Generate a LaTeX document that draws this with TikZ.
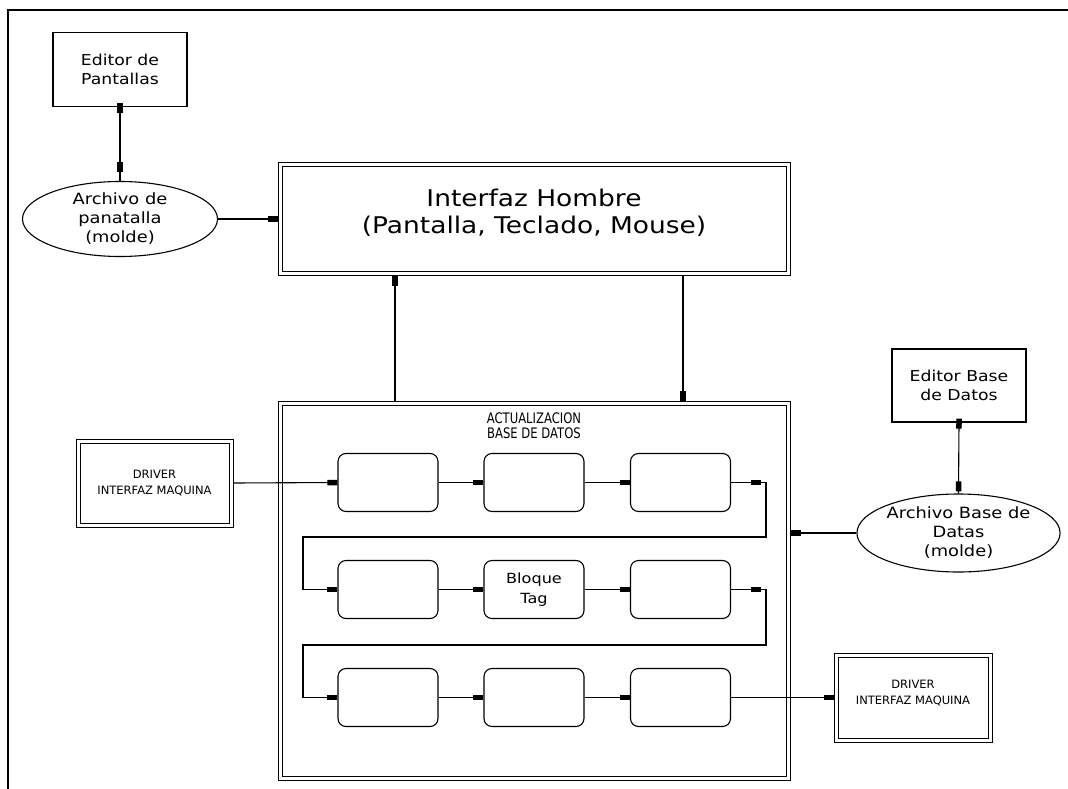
\documentclass[tikz,border=0pt]{standalone}
\usepackage{fontspec}
\setmainfont{DejaVu Sans}[FakeStretch=1.15]
\newfontfamily\capsfont{DejaVu Sans}
\newfontfamily\narrowfont{DejaVu Sans}[FakeStretch=0.8]
\usetikzlibrary{arrows.meta,shapes.geometric,decorations.markings}

\begin{document}
\begin{tikzpicture}[x=1pt,y=-1pt,
  line width=1.1pt,
  >={Rectangle[length=10pt,width=5.5pt]},
  plainbox/.style={draw, minimum width=134pt, minimum height=74pt, inner sep=0pt,
    align=center, font=\fontsize{15}{19}\selectfont},
  dblbox/.style={draw, double, double distance=3pt, line width=1pt, inner sep=0pt,
    outer sep=2.5pt, align=center},
  cell/.style={draw, rounded corners=8pt, minimum width=100pt, minimum height=58pt,
    inner sep=0pt, align=center, font=\fontsize{14}{20}\selectfont},
  oval/.style={draw, ellipse, inner sep=0pt, align=center,
    font=\fontsize{15.5}{19}\selectfont},
  lbl/.style={inner sep=0pt, align=center},
  drvtext/.style={font=\capsfont\fontsize{11.5}{16}\selectfont},
  midtip/.style={postaction={decorate}, decoration={markings,
    mark=at position #1 with {\arrow{>}}}},
  bothtips/.style 2 args={postaction={decorate}, decoration={markings,
    mark=at position #1 with {\arrow{<}},
    mark=at position #2 with {\arrow{>}}}},
]
\useasboundingbox (0,0) rectangle (1068,789);

% sheet frame (left and top edges)
\draw[line width=1.2pt] (8,789) -- (8,10) -- (1068,10);

% screen editor side
\node[plainbox] (edp) at (120,69.5) {Editor de\\Pantallas};
\node[oval, minimum width=195pt, minimum height=75pt] (arp) at (120,219)
  {Archivo de\\panatalla\\(molde)};

% human interface
\node[dblbox, minimum width=508pt, minimum height=109pt] (ifz) at (534,218.5) {};
\node[lbl, font=\fontsize{23}{27}\selectfont] (ifztext) at (534,213)
  {Interfaz Hombre\\(Pantalla, Teclado, Mouse)};

% database update block
\node[dblbox, minimum width=508pt, minimum height=375pt] (act) at (534,590.5) {};
\node[lbl, font=\narrowfont\fontsize{14.5}{15}\selectfont] (acttitle) at (534,425.5)
  {ACTUALIZACION\\BASE DE DATOS};

% machine drivers
\node[dblbox, minimum width=153pt, minimum height=84pt, drvtext] (drv1) at (154.5,483)
  {DRIVER\\INTERFAZ MAQUINA};
\node[dblbox, minimum width=154pt, minimum height=85pt] (drv2) at (913,697.5) {};
\node[lbl, drvtext] (drv2text) at (913,693.5) {DRIVER\\INTERFAZ MAQUINA};

% database editor side
\node[plainbox, minimum height=73pt] (edb) at (959,385.5) {Editor Base\\de Datos};
\node[oval, minimum width=203pt, minimum height=78pt] (arb) at (958.5,533)
  {Archivo Base de\\Datas\\(molde)};

% processing cells
\node[cell] (r1c1) at (388,482.5) {};
\node[cell] (r1c2) at (534,482.5) {};
\node[cell] (r1c3) at (680.5,482.5) {};
\node[cell] (r2c1) at (388,589.5) {};
\node[cell] (r2c2) at (534,589.5) {Bloque\\Tag};
\node[cell] (r2c3) at (680.5,589.5) {};
\node[cell] (r3c1) at (388,697.5) {};
\node[cell] (r3c2) at (534,697.5) {};
\node[cell] (r3c3) at (680.5,697.5) {};

% helper coordinates for the routing
\coordinate (upx) at (395,0);
\coordinate (dnx) at (683,0);
\coordinate (bendR) at (766,0);
\coordinate (bendL) at (303,0);
\coordinate (gap1) at (0,537);
\coordinate (gap2) at (0,645);

% connectors
\draw[bothtips={6pt}{-9pt}] (edp.south) -- (arp.north);
\draw[->] (arp.east) -- (ifz.west |- arp.east);
\draw[->] (act.north -| upx) -- (ifz.south -| upx);
\draw[->] (ifz.south -| dnx) -- (act.north -| dnx);
\draw[bothtips={6pt}{-2pt}] (edb.south) -- (arb.north);
\draw[->] (arb.west) -- (act.east |- arb.west);
\draw[->] (drv1.east) -- (r1c1.west);

\draw[->] (r1c1.east) -- (r1c2.west);
\draw[->] (r1c2.east) -- (r1c3.west);
\draw[->, midtip=30pt] (r1c3.east) -- (r1c3.east -| bendR) -- (bendR |- gap1)
  -- (bendL |- gap1) -- (bendL |- r2c1.west) -- (r2c1.west);
\draw[->] (r2c1.east) -- (r2c2.west);
\draw[->] (r2c2.east) -- (r2c3.west);
\draw[->, midtip=30pt] (r2c3.east) -- (r2c3.east -| bendR) -- (bendR |- gap2)
  -- (bendL |- gap2) -- (bendL |- r3c1.west) -- (r3c1.west);
\draw[->] (r3c1.east) -- (r3c2.west);
\draw[->] (r3c2.east) -- (r3c3.west);
\draw[->] (r3c3.east) -- (drv2.west |- r3c3.east);
\end{tikzpicture}
\end{document}
